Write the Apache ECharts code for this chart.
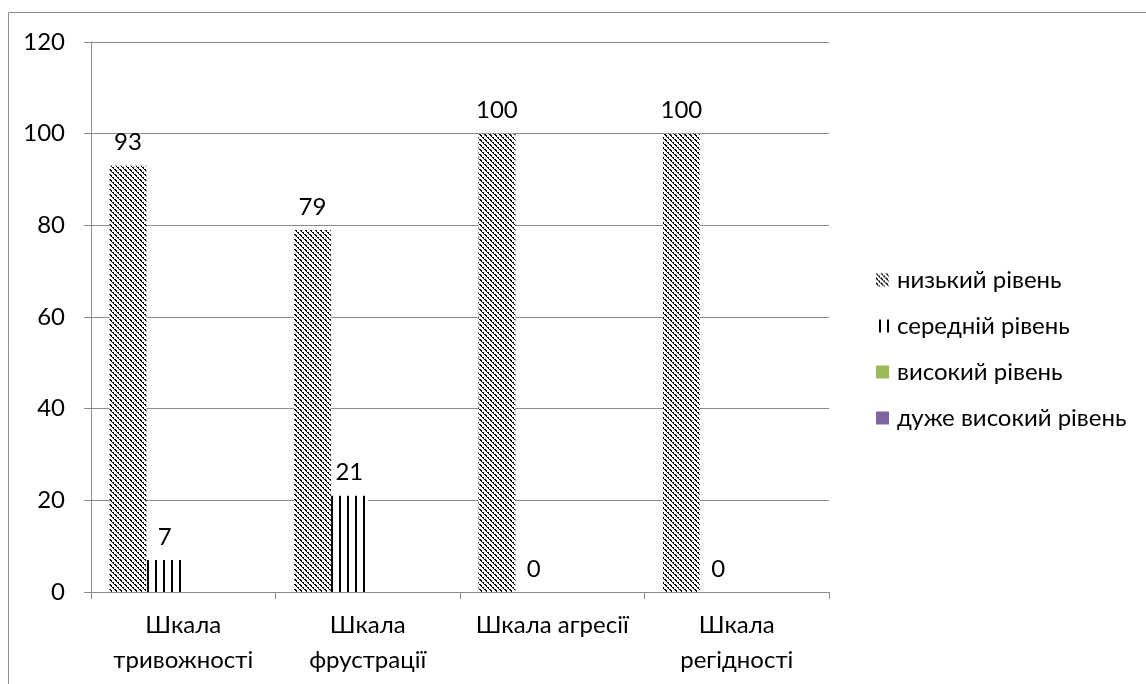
<!DOCTYPE html>
<html>
<head>
<meta charset="utf-8">
<script src="https://cdn.jsdelivr.net/npm/echarts@6/dist/echarts.min.js"></script>
<style>
    html, body { margin: 0; padding: 0; background: #fff; }
    #chart { width: 1146px; height: 684px; }
</style>
</head>
<body>
<div id="chart"></div>
<script>
// categories and values
var categories = ['Шкала\nтривожності', 'Шкала\nфрустрації', 'Шкала агресії', 'Шкала\nрегідності'];
var seriesNames = ['низький рівень', 'середній рівень', 'високий рівень', 'дуже високий рівень'];
var lowLevel = [93, 79, 100, 100];
var midLevel = [7, 21, 0, 0];
var highLevel = [null, null, null, null];
var veryHighLevel = [null, null, null, null];

var font = 'Lato';
var fs = 24;

// diagonal hatch pattern
function hatch() {
    var c = document.createElement('canvas');
    c.width = 5; c.height = 5;
    var ctx = c.getContext('2d');
    ctx.fillStyle = '#fff';
    ctx.fillRect(0, 0, 5, 5);
    ctx.fillStyle = '#000';
    for (var y = 0; y < 5; y++) {
        for (var x = 0; x < 5; x++) {
            var d = (x - y + 10) % 5;
            if (d === 0 || (d === 1 && y % 2 === 0)) ctx.fillRect(x, y, 1, 1);
        }
    }
    return c;
}
// vertical lines pattern
function vlines() {
    var c = document.createElement('canvas');
    c.width = 8; c.height = 8;
    var ctx = c.getContext('2d');
    ctx.fillStyle = '#fff';
    ctx.fillRect(0, 0, 8, 8);
    ctx.fillStyle = '#000';
    ctx.fillRect(3, 0, 2, 8);
    return c;
}

var labelStyle = {
    show: true,
    position: 'top',
    distance: 11,
    color: '#000',
    fontFamily: font,
    fontSize: fs
};

var myChart = echarts.init(document.getElementById('chart'));
myChart.setOption({
    animation: false,
    textStyle: { fontFamily: font },
    graphic: [{
        type: 'rect',
        shape: { x: 8.5, y: 12.5, width: 1200, height: 700 },
        style: { fill: null, stroke: '#8c8c8c', lineWidth: 1 },
        silent: true
    }],
    grid: { left: 91, top: 42, right: 317, bottom: 92 },
    legend: {
        orient: 'vertical',
        left: 871,
        top: 263,
        itemWidth: 13,
        itemHeight: 13,
        itemGap: 22,
        icon: 'rect',
        textStyle: { fontFamily: font, fontSize: fs, color: '#000', padding: [0, 0, 0, 3] },
        data: seriesNames
    },
    xAxis: {
        type: 'category',
        data: categories,
        axisLine: { lineStyle: { color: '#8c8c8c', width: 1 } },
        axisTick: { show: true, length: 7, lineStyle: { color: '#8c8c8c' } },
        axisLabel: { color: '#000', fontSize: fs, lineHeight: 35, margin: 16, interval: 0, fontFamily: font }
    },
    yAxis: {
        type: 'value',
        min: 0,
        max: 120,
        interval: 20,
        axisLine: { show: true, lineStyle: { color: '#8c8c8c', width: 1 } },
        axisTick: { show: true, length: 7, lineStyle: { color: '#8c8c8c' } },
        axisLabel: { color: '#000', fontSize: fs, margin: 26, fontFamily: font },
        splitLine: { lineStyle: { color: '#8c8c8c', width: 1 } }
    },
    series: [
        {
            name: seriesNames[0], type: 'bar', data: lowLevel,
            barGap: '0%', barCategoryGap: '20%',
            itemStyle: { color: { image: hatch(), repeat: 'repeat' } },
            label: labelStyle
        },
        {
            name: seriesNames[1], type: 'bar', data: midLevel,
            itemStyle: { color: { image: vlines(), repeat: 'repeat' } },
            label: labelStyle
        },
        {
            name: seriesNames[2], type: 'bar', data: highLevel,
            itemStyle: { color: '#9bbb59' },
            label: labelStyle
        },
        {
            name: seriesNames[3], type: 'bar', data: veryHighLevel,
            itemStyle: { color: '#8064a2' },
            label: labelStyle
        }
    ]
});
</script>
</body>
</html>
